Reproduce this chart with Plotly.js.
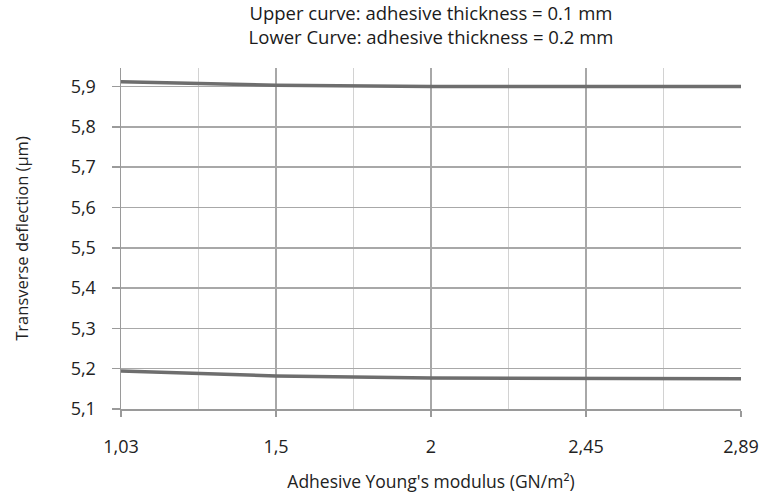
<!DOCTYPE html>
<html>
<head>
<meta charset="utf-8">
<script src="https://cdn.plot.ly/plotly-3.0.1.min.js"></script>
<style>
  html, body { margin: 0; padding: 0; background: #fff; }
  #chart { width: 765px; height: 497px; }
</style>
</head>
<body>
<div id="chart"></div>
<script>
// Adhesive Young's modulus values (GN/m²), shown as evenly spaced categories
const modulusLabels = ['1,03', '1,5', '2', '2,45', '2,89'];
const positions = [0, 1, 2, 3, 4];

// Transverse deflection (µm)
const deflectionThin = [5.912, 5.903, 5.900, 5.900, 5.900];   // adhesive thickness 0.1 mm
const deflectionThick = [5.194, 5.182, 5.177, 5.175, 5.175];  // adhesive thickness 0.2 mm

const yTicks = [5.1, 5.2, 5.3, 5.4, 5.5, 5.6, 5.7, 5.8, 5.9];
const yTickText = ['5,1', '5,2', '5,3', '5,4', '5,5', '5,6', '5,7', '5,8', '5,9'];

const font = 'Open Sans, DejaVu Sans, sans-serif';
const textColor = '#222222';
const lineStyle = { color: '#6e6e6e', width: 3.5 };

const traces = [
  { x: positions, y: deflectionThin, type: 'scatter', mode: 'lines', line: lineStyle, hoverinfo: 'skip' },
  { x: positions, y: deflectionThick, type: 'scatter', mode: 'lines', line: lineStyle, hoverinfo: 'skip' }
];

const layout = {
  width: 765,
  height: 497,
  paper_bgcolor: '#ffffff',
  plot_bgcolor: '#ffffff',
  showlegend: false,
  margin: { l: 121, r: 24, t: 68, b: 88 },
  font: { family: font, size: 17, color: textColor },
  title: {
    text: 'Upper curve: adhesive thickness = 0.1 mm<br>Lower Curve: adhesive thickness = 0.2 mm',
    font: { family: font, size: 18.5, color: '#1a1a1a' },
    xref: 'paper', x: 0.5, xanchor: 'center',
    yref: 'container', y: 0.96, yanchor: 'middle'
  },
  xaxis: {
    range: [0, 4],
    tickmode: 'array',
    tickvals: positions,
    ticktext: modulusLabels,
    ticks: 'outside', ticklen: 6, tickcolor: '#9a9a9a', tickwidth: 1.5,
    ticklabelstandoff: 15,
    showgrid: true, gridcolor: '#a8a8a8', gridwidth: 1.5,
    minor: { tickmode: 'array', tickvals: [0.5, 1.5, 2.5, 3.5], showgrid: true, gridcolor: '#d2d2d2', gridwidth: 1.5, ticks: '' },
    showline: true, linecolor: '#9a9a9a', linewidth: 1.5,
    zeroline: false,
    tickfont: { family: font, size: 18, color: textColor },
    title: { text: "Adhesive Young's modulus (GN/m²)", font: { family: font, size: 17.5, color: textColor }, standoff: 18 },
    automargin: false
  },
  yaxis: {
    range: [5.1, 5.946],
    tickmode: 'array',
    tickvals: yTicks,
    ticktext: yTickText,
    ticks: 'outside', ticklen: 8, tickcolor: '#9a9a9a', tickwidth: 1.5,
    ticklabelstandoff: 12,
    showgrid: true, gridcolor: '#a8a8a8', gridwidth: 1.5,
    showline: true, linecolor: '#9a9a9a', linewidth: 1.5,
    zeroline: false,
    tickfont: { family: font, size: 18, color: textColor },
    title: { text: 'Transverse deflection (µm)', font: { family: font, size: 16.5, color: textColor }, standoff: 38 },
    automargin: false
  }
};

Plotly.newPlot('chart', traces, layout, { displayModeBar: false, staticPlot: true });
</script>
</body>
</html>
